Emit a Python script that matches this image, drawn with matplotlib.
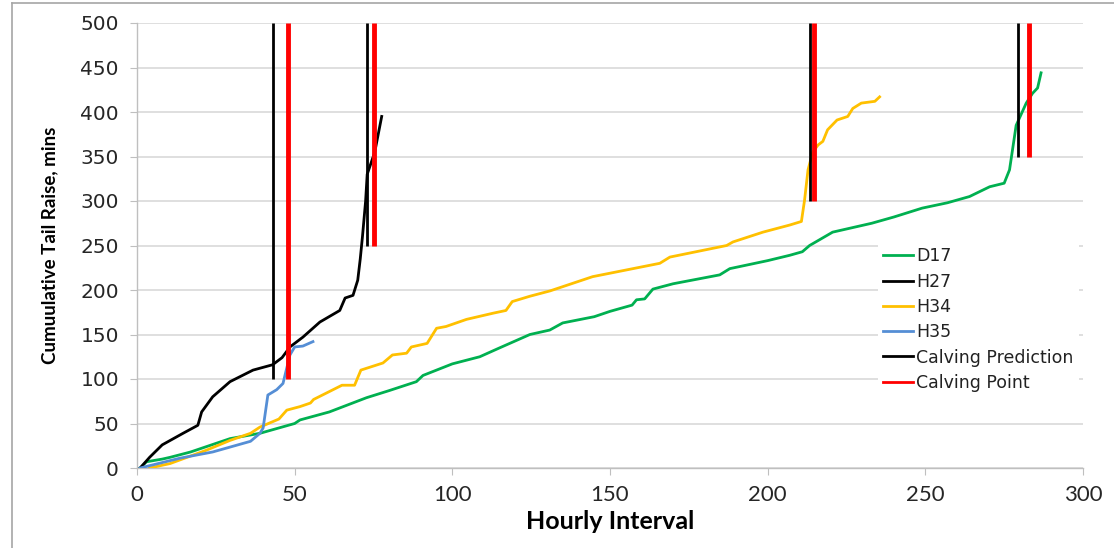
import matplotlib
matplotlib.use("Agg")
import matplotlib.pyplot as plt
from matplotlib.lines import Line2D

# ---------------- data ----------------
d17_x = [1, 3, 8, 10.5, 17, 29.5, 39, 45, 50, 51.7, 61, 72.8, 80, 88.6, 90.7, 100, 108.7, 115,
         124.6, 130.9, 135, 145, 150, 157, 158.4, 161, 163.6, 170, 184.8, 188, 200, 207, 211,
         213.3, 220.6, 233, 240, 249, 257, 264, 270.4, 275, 276.7, 278.8, 282, 284, 285.6, 286.7]
d17_y = [0, 7, 10, 12, 18, 33, 39, 45, 50, 54, 63, 79, 87, 97, 104, 117, 125, 135,
         150, 155, 163, 170, 176, 183, 189, 190, 201, 207, 217, 224, 233, 239, 243,
         250, 265, 275, 282, 292, 298, 305, 316, 320, 335, 385, 410, 421, 427, 444]

h27_x = [1, 4, 8, 14.6, 19.3, 20.5, 24, 29.5, 36.8, 43, 46, 48.5, 52.6, 58, 64.3, 66, 68.5,
         70, 70.8, 71.5, 72.5, 73, 75.4, 77.6]
h27_y = [0, 12, 26, 39, 48, 63, 80, 97, 110, 116, 124, 136, 147, 164, 177, 191, 194,
         211, 235, 260, 300, 330, 355, 395]

h34_x = [4, 10.5, 22, 29.5, 36, 39, 45, 47.5, 51.7, 55, 56, 65, 69, 71, 78, 81, 85.5, 87, 92,
         95, 98, 104.5, 113, 117, 119, 124.6, 131, 144.5, 165.8, 169, 187, 189, 198.5, 207,
         210.7, 211.7, 212.8, 214.3, 216, 217.5, 219, 222, 225.4, 227, 229.7, 234, 235.5]
h34_y = [0, 5, 20, 31, 39, 46, 55, 65, 69, 73, 77, 93, 93, 110, 118, 127, 129, 136, 140,
         157, 159, 167, 174, 177, 187, 193, 199, 215, 230, 237, 250, 254, 265, 273,
         277, 301, 335, 355, 363, 367, 380, 391, 395, 404, 410, 412, 417]

h35_x = [1, 13.6, 24, 36, 39, 40, 41.5, 44.3, 46.3, 48.5, 50, 52.6, 55.8]
h35_y = [0, 11, 18, 30, 39, 45, 82, 88, 95, 127, 136, 137, 142]

pred_x = [43, 73, 213.4, 279.5]
point_x = [48, 75.2, 214.6, 282.8]
line_bottom = [100, 250, 300, 350]
line_top = 500

x_ticks = [0, 50, 100, 150, 200, 250, 300]
y_ticks = [0, 50, 100, 150, 200, 250, 300, 350, 400, 450, 500]

# ---------------- figure ----------------
cond = ['Lato', 'DejaVu Sans']
fig = plt.figure(figsize=(11.14, 5.48), dpi=100)
ax = fig.add_axes([137/1114, 80/548, 946/1114, 445/548])

grid_c = '#d9d9d9'
ax.set_xlim(0, 300)
ax.set_ylim(0, 500)
ax.set_yticks(y_ticks)
ax.set_xticks(x_ticks)
ax.yaxis.grid(True, color=grid_c, lw=1.2, zorder=0)
ax.set_axisbelow(True)
for s in ['top', 'right']:
    ax.spines[s].set_visible(False)
for s in ['left', 'bottom']:
    ax.spines[s].set_color('#bfbfbf')
    ax.spines[s].set_linewidth(1.0)
ax.tick_params(axis='both', direction='out', length=5, color='#bfbfbf')
ax.tick_params(axis='y', pad=8, labelcolor='#262626')
ax.tick_params(axis='x', pad=7, labelcolor='#262626')
for lab in ax.get_xticklabels():
    lab.set_family(cond)
    lab.set_fontsize(16)
for lab in ax.get_yticklabels():
    lab.set_family(['DejaVu Sans'])
    lab.set_fontsize(14.5)

lw = 2.0
ax.plot(d17_x, d17_y, color='#00b050', lw=lw, label='D17', zorder=3)
ax.plot(h27_x, h27_y, color='#000000', lw=lw, label='H27', zorder=3)
ax.plot(h34_x, h34_y, color='#ffc000', lw=lw, label='H34', zorder=3)
ax.plot(h35_x, h35_y, color='#558ed5', lw=lw, label='H35', zorder=3)

ax.vlines(pred_x, line_bottom, line_top, color='#000000', lw=2.0, zorder=4,
          label='Calving Prediction')
ax.vlines(point_x, line_bottom, line_top, color='#ff0000', lw=3.5, zorder=4,
          label='Calving Point')

handles = [Line2D([], [], color='#00b050', lw=2),
           Line2D([], [], color='#000000', lw=2),
           Line2D([], [], color='#ffc000', lw=2),
           Line2D([], [], color='#558ed5', lw=2),
           Line2D([], [], color='#000000', lw=2),
           Line2D([], [], color='#ff0000', lw=2)]
labels = ['D17', 'H27', 'H34', 'H35', 'Calving Prediction', 'Calving Point']
leg = ax.legend(handles, labels, loc='upper left', bbox_to_anchor=(0.774, 0.527),
                frameon=True, fancybox=False, edgecolor='none', facecolor='white',
                framealpha=1, prop={'family': 'DejaVu Sans', 'size': 12.5},
                handlelength=1.75, handletextpad=0.15,
                labelspacing=0.42, borderpad=0.3)
for t in leg.get_texts():
    t.set_color('#222222')

xl = ax.set_xlabel('Hourly Interval', fontsize=15, fontweight='bold', family=cond, labelpad=4)
yl = ax.set_ylabel('Cumuulative Tail Raise, mins', fontsize=15, fontweight='bold',
                   family=cond, labelpad=16)

# fit label sizes to the reference lengths (pixels)
fig.canvas.draw()
r = fig.canvas.get_renderer()
w = xl.get_window_extent(r).width
xl.set_fontsize(15 * 169 / w)
h = yl.get_window_extent(r).height
yl.set_fontsize(15 * 238 / h)

# outer grey frame of the picture
fig.add_artist(Line2D([12/1114, 12/1114], [0, 1 - 3/548], transform=fig.transFigure,
                      color='#a6a6a6', lw=1.2))
fig.add_artist(Line2D([12/1114, 1], [1 - 3/548, 1 - 3/548], transform=fig.transFigure,
                      color='#a6a6a6', lw=1.2))

fig.savefig('out.png', dpi=100)
